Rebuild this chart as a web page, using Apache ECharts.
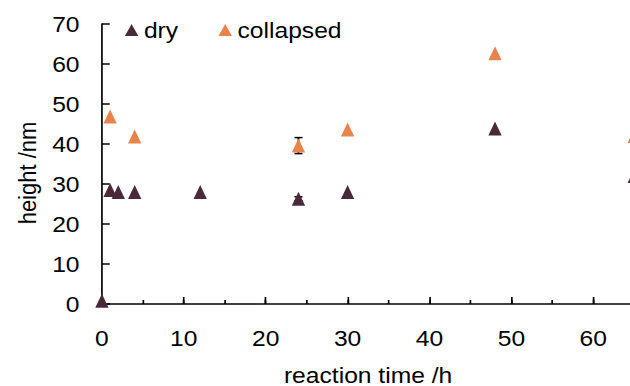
<!DOCTYPE html>
<html>
<head>
<meta charset="utf-8">
<script src="https://cdn.jsdelivr.net/npm/echarts@6/dist/echarts.min.js"></script>
<style>
  html, body { margin: 0; padding: 0; background: #fff; overflow: hidden; width: 630px; height: 386px; }
  /* the drawing is laid out at a narrower width and widened to 630px */
  #chart { width: 562.5px; height: 386px; transform: scaleX(1.12); transform-origin: 0 0; }
</style>
</head>
<body>
<div id="chart"></div>
<script>
// reaction time (h) and measured heights (nm)
const timeDry = [0, 1, 2, 4, 12, 24, 30, 48, 65];
const heightDry = [0.8, 28.5, 28, 28, 28, 26.3, 28, 43.9, 32];
const errDry = [0, 0, 0, 0, 0, 0.5, 0, 0, 0];

const timeCollapsed = [1, 4, 24, 30, 48, 65];
const heightCollapsed = [46.9, 41.9, 39.6, 43.6, 62.7, 42];
const errCollapsed = [0, 0, 2.0, 0, 0, 0];

const seriesNames = ['dry', 'collapsed'];
const xTicks = [0, 10, 20, 30, 40, 50, 60];
const yTicks = [0, 10, 20, 30, 40, 50, 60, 70];

const colorDry = '#4a2a3a';
const colorCollapsed = '#e8844b';
const font = '"Liberation Sans", Arial, sans-serif';

function pairs(xs, ys) { return xs.map((x, i) => [x, ys[i]]); }
function errRows(xs, ys, es) {
  return xs.map((x, i) => [x, ys[i], es[i]]).filter(r => r[2] > 0);
}

function errorBar(params, api) {
  const x = api.value(0), y = api.value(1), e = api.value(2);
  const top = api.coord([x, y + e]);
  const bot = api.coord([x, y - e]);
  const half = 3.6;
  const style = { stroke: '#000', lineWidth: 1.5 };
  return {
    type: 'group',
    children: [
      { type: 'line', shape: { x1: top[0], y1: top[1], x2: bot[0], y2: bot[1] }, style },
      { type: 'line', shape: { x1: top[0] - half, y1: top[1], x2: top[0] + half, y2: top[1] }, style },
      { type: 'line', shape: { x1: bot[0] - half, y1: bot[1], x2: bot[0] + half, y2: bot[1] }, style }
    ]
  };
}

const chart = echarts.init(document.getElementById('chart'), null, { renderer: 'svg' });

const axisLine = { show: true, lineStyle: { color: '#000', width: 1.5 } };

chart.setOption({
  animation: false,
  backgroundColor: '#fff',
  textStyle: { fontFamily: font },
  legend: {
    data: [
      { name: seriesNames[0], icon: 'triangle' },
      { name: seriesNames[1], icon: 'triangle' }
    ],
    left: 106.5,
    top: 14,
    itemWidth: 12,
    itemHeight: 12,
    itemGap: 36,
    textStyle: { fontSize: 22, color: '#000', fontFamily: font }
  },
  // the time axis runs on to 65 h, just past the right edge
  grid: {
    left: 91, width: 475.3, top: 24, bottom: 82,
    containLabel: false,
    outerBoundsMode: 'none'
  },
  xAxis: [
    {
      type: 'value',
      min: 0, max: 65, interval: 5,
      position: 'bottom',
      name: 'reaction time /h',
      nameLocation: 'middle',
      nameGap: 60,
      nameTextStyle: { fontSize: 22, color: '#000', fontFamily: font },
      axisLine: axisLine,
      axisTick: { show: true, inside: true, length: 4, lineStyle: { color: '#000', width: 1.5 } },
      axisLabel: {
        fontSize: 22, color: '#000', margin: 23, fontFamily: font,
        formatter: v => (xTicks.indexOf(v) >= 0 ? String(v) : '')
      },
      splitLine: { show: false }
    },
    {
      type: 'value',
      min: 0, max: 65, interval: 10,
      position: 'bottom',
      axisLine: { show: false },
      axisTick: { show: true, inside: true, length: 7, lineStyle: { color: '#000', width: 1.5 } },
      axisLabel: { show: false },
      splitLine: { show: false }
    }
  ],
  yAxis: {
    type: 'value',
    min: yTicks[0], max: yTicks[yTicks.length - 1], interval: 10,
    name: 'height /nm',
    nameLocation: 'middle',
    nameGap: 55,
    // extra space on the text's trailing side moves the rotated title a little lower
    nameTextStyle: { fontSize: 22, color: '#000', fontFamily: font, padding: [0, 18, 0, 0] },
    axisLine: axisLine,
    axisTick: { show: true, inside: true, length: 7, lineStyle: { color: '#000', width: 1.5 } },
    axisLabel: { fontSize: 22, color: '#000', margin: 20, fontFamily: font },
    splitLine: { show: false }
  },
  series: [
    {
      type: 'custom',
      renderItem: errorBar,
      data: errRows(timeCollapsed, heightCollapsed, errCollapsed),
      z: 1, silent: true, clip: false
    },
    {
      type: 'custom',
      renderItem: errorBar,
      data: errRows(timeDry, heightDry, errDry),
      z: 1, silent: true, clip: false
    },
    {
      name: seriesNames[0],
      type: 'scatter',
      symbol: 'triangle',
      symbolSize: [11.9, 14],
      itemStyle: { color: colorDry, opacity: 1 },
      data: pairs(timeDry, heightDry),
      clip: false,
      z: 3
    },
    {
      name: seriesNames[1],
      type: 'scatter',
      symbol: 'triangle',
      symbolSize: [11.9, 14],
      itemStyle: { color: colorCollapsed, opacity: 1 },
      data: pairs(timeCollapsed, heightCollapsed),
      clip: false,
      z: 3
    }
  ]
});
</script>
</body>
</html>
